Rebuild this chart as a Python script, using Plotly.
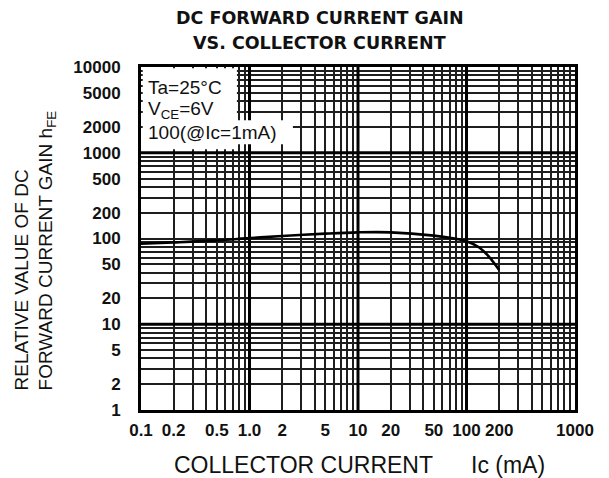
import plotly.graph_objects as go

# ---- data ----
IC_MA = [0.1, 0.2, 0.5, 1, 2, 5, 10, 20, 50, 80, 100, 130, 160, 200]
HFE_REL = [87, 90, 95, 101, 107, 114, 118, 118, 108, 99, 93, 79, 62, 43]

X_TICKS = [0.1, 0.2, 0.5, 1, 2, 5, 10, 20, 50, 100, 200, 1000]
X_TICKTEXT = ["0.1", "0.2", "0.5", "1.0", "2", "5", "10", "20", "50", "100", "200", "1000"]
Y_TICKS = [1, 2, 5, 10, 20, 50, 100, 200, 500, 1000, 2000, 5000, 10000]
Y_TICKTEXT = [str(v) for v in Y_TICKS]

X_MINOR = [m * d for d in [0.1, 1, 10, 100] for m in [3, 4, 6, 7, 8, 9]] + [500]
Y_MINOR = [m * d for d in [1, 10, 100, 1000] for m in [3, 4, 6, 7, 8, 9]]

DECADES_X = [1, 10, 100]
DECADES_Y = [10, 1000]

FONT = "Liberation Sans, Arial, sans-serif"
BOLDFONT = "DejaVu Sans, Arial, sans-serif"
INK = "#111111"
GRID = "#1e1e1e"

fig = go.Figure()

# emphasised decade grid lines
for xv in DECADES_X:
    fig.add_trace(go.Scatter(x=[xv, xv], y=[1, 10000], mode="lines",
                             line=dict(color="black", width=3),
                             hoverinfo="skip", showlegend=False))
for yv in DECADES_Y:
    fig.add_trace(go.Scatter(x=[0.1, 1000], y=[yv, yv], mode="lines",
                             line=dict(color="black", width=3),
                             hoverinfo="skip", showlegend=False))

# curve
fig.add_trace(go.Scatter(x=IC_MA, y=HFE_REL, mode="lines",
                         line=dict(color="black", width=2.6, shape="spline", smoothing=1.0),
                         showlegend=False))

axis_common = dict(
    type="log",
    showline=True, linecolor="black", linewidth=3, mirror=True,
    showgrid=True, gridcolor=GRID, gridwidth=1.5,
    ticks="", zeroline=False,
    tickfont=dict(family=FONT, size=17, color=INK, weight="bold"),
)

fig.update_xaxes(
    **axis_common,
    range=[-1, 3],
    tickmode="array", tickvals=X_TICKS, ticktext=X_TICKTEXT,
    ticklabelstandoff=3,
    minor=dict(tickmode="array", tickvals=X_MINOR, showgrid=True,
               gridcolor=GRID, gridwidth=1.5, ticks=""),
)
fig.update_yaxes(
    **axis_common,
    range=[0, 4],
    tickmode="array", tickvals=Y_TICKS, ticktext=Y_TICKTEXT,
    ticklabelstandoff=14,
    minor=dict(tickmode="array", tickvals=Y_MINOR, showgrid=True,
               gridcolor=GRID, gridwidth=1.5, ticks=""),
)

# white legend box (condition text)
fig.add_shape(type="rect", xref="x domain", yref="y domain",
              x0=0.004, x1=0.221, y0=0.76, y1=0.996,
              fillcolor="white", line=dict(width=0), layer="above")
fig.add_shape(type="rect", xref="x domain", yref="y domain",
              x0=0.221, x1=0.35, y0=0.775, y1=0.845,
              fillcolor="white", line=dict(width=0), layer="above")

cond_lines = ["Ta=25°C", "V<sub>CE</sub>=6V", "100(@Ic=1mA)"]
cond_y = [0.939, 0.875, 0.810]
annos = []
for t, yy in zip(cond_lines, cond_y):
    annos.append(dict(text=t, xref="x domain", yref="y domain", x=0.012, y=yy,
                      xanchor="left", yanchor="middle", showarrow=False,
                      font=dict(family=FONT, size=19, color=INK)))

# title
annos.append(dict(text="<b>DC FORWARD CURRENT GAIN</b>", xref="paper", yref="paper",
                  x=0.412, y=1.143, xanchor="center", yanchor="middle", showarrow=False,
                  font=dict(family=BOLDFONT, size=17.5, color=INK)))
annos.append(dict(text="<b>VS. COLLECTOR CURRENT</b>", xref="paper", yref="paper",
                  x=0.412, y=1.070, xanchor="center", yanchor="middle", showarrow=False,
                  font=dict(family=BOLDFONT, size=17.5, color=INK)))

# x axis title
annos.append(dict(text="COLLECTOR CURRENT", xref="paper", yref="paper",
                  x=0.374, y=-0.160, xanchor="center", yanchor="middle", showarrow=False,
                  font=dict(family=FONT, size=23, color=INK)))
annos.append(dict(text="Ic (mA)", xref="paper", yref="paper",
                  x=0.846, y=-0.160, xanchor="center", yanchor="middle", showarrow=False,
                  font=dict(family=FONT, size=23, color=INK)))

# y axis title
annos.append(dict(text="RELATIVE VALUE OF DC<br>FORWARD CURRENT GAIN h<sub>FE</sub>",
                  xref="paper", yref="paper", x=-0.243, y=0.05,
                  xanchor="center", yanchor="bottom", textangle=-90, align="left",
                  showarrow=False,
                  font=dict(family=FONT, size=19, color=INK)))

fig.update_layout(
    width=609, height=478,
    margin=dict(l=141, r=34, t=67, b=68),
    paper_bgcolor="white", plot_bgcolor="white",
    annotations=annos,
    showlegend=False,
)

fig.write_html("out.html",
               config={"displayModeBar": False},
               post_script="document.body.style.margin='0px';document.body.style.overflow='hidden';")
